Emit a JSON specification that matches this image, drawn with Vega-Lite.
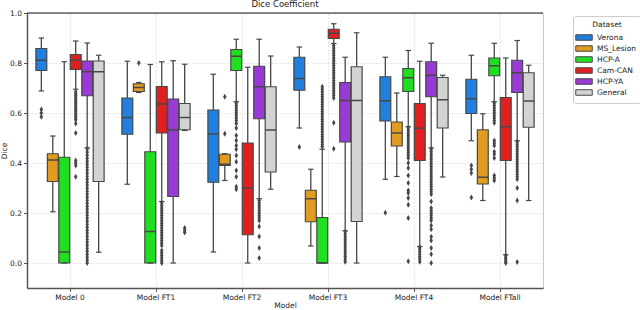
{
  "$schema": "https://vega.github.io/schema/vega-lite/v6.json",
  "width": 516,
  "height": 275,
  "autosize": "none",
  "padding": {"left": 27, "top": 13, "right": 97, "bottom": 22},
  "title": {"text": "Dice Coefficient", "fontSize": 8.5, "fontWeight": "normal", "offset": 1, "color": "#222222"},
  "config": {
    "font": "DejaVu Sans",
    "view": {"stroke": "#c8c8c8", "strokeWidth": 1}
  },
  "datasets": {
    "boxes": [
      {"m": "Model 0", "d": "Verona", "lo": 0.688, "q1": 0.770, "med": 0.811, "q3": 0.858, "hi": 0.900},
      {"m": "Model 0", "d": "MS_Lesion", "lo": 0.205, "q1": 0.326, "med": 0.412, "q3": 0.437, "hi": 0.508},
      {"m": "Model 0", "d": "HCP-A", "lo": 0.0, "q1": 0.0, "med": 0.044, "q3": 0.423, "hi": 0.805},
      {"m": "Model 0", "d": "Cam-CAN", "lo": 0.695, "q1": 0.774, "med": 0.811, "q3": 0.834, "hi": 0.888},
      {"m": "Model 0", "d": "HCP-YA", "lo": 0.461, "q1": 0.669, "med": 0.765, "q3": 0.808, "hi": 0.880},
      {"m": "Model 0", "d": "General", "lo": 0.043, "q1": 0.326, "med": 0.765, "q3": 0.808, "hi": 0.831},
      {"m": "Model FT1", "d": "Verona", "lo": 0.315, "q1": 0.515, "med": 0.582, "q3": 0.660, "hi": 0.807},
      {"m": "Model FT1", "d": "MS_Lesion", "lo": 0.682, "q1": 0.686, "med": 0.702, "q3": 0.717, "hi": 0.722},
      {"m": "Model FT1", "d": "HCP-A", "lo": 0.0, "q1": 0.0, "med": 0.126, "q3": 0.445, "hi": 0.794},
      {"m": "Model FT1", "d": "Cam-CAN", "lo": 0.246, "q1": 0.520, "med": 0.636, "q3": 0.706, "hi": 0.805},
      {"m": "Model FT1", "d": "HCP-YA", "lo": 0.0, "q1": 0.266, "med": 0.532, "q3": 0.656, "hi": 0.809},
      {"m": "Model FT1", "d": "General", "lo": 0.530, "q1": 0.533, "med": 0.582, "q3": 0.638, "hi": 0.795},
      {"m": "Model FT2", "d": "Verona", "lo": 0.044, "q1": 0.323, "med": 0.516, "q3": 0.612, "hi": 0.755},
      {"m": "Model FT2", "d": "MS_Lesion", "lo": 0.330, "q1": 0.390, "med": 0.395, "q3": 0.435, "hi": 0.437},
      {"m": "Model FT2", "d": "HCP-A", "lo": 0.645, "q1": 0.770, "med": 0.827, "q3": 0.854, "hi": 0.895},
      {"m": "Model FT2", "d": "Cam-CAN", "lo": 0.0, "q1": 0.113, "med": 0.299, "q3": 0.480, "hi": 0.783},
      {"m": "Model FT2", "d": "HCP-YA", "lo": 0.257, "q1": 0.577, "med": 0.705, "q3": 0.787, "hi": 0.895},
      {"m": "Model FT2", "d": "General", "lo": 0.295, "q1": 0.364, "med": 0.532, "q3": 0.705, "hi": 0.828},
      {"m": "Model FT3", "d": "Verona", "lo": 0.540, "q1": 0.691, "med": 0.738, "q3": 0.823, "hi": 0.864},
      {"m": "Model FT3", "d": "MS_Lesion", "lo": 0.068, "q1": 0.165, "med": 0.257, "q3": 0.291, "hi": 0.375},
      {"m": "Model FT3", "d": "HCP-A", "lo": 0.0, "q1": 0.0, "med": 0.0, "q3": 0.182, "hi": 0.455},
      {"m": "Model FT3", "d": "Cam-CAN", "lo": 0.878, "q1": 0.898, "med": 0.919, "q3": 0.935, "hi": 0.957},
      {"m": "Model FT3", "d": "HCP-YA", "lo": 0.129, "q1": 0.484, "med": 0.650, "q3": 0.722, "hi": 0.823},
      {"m": "Model FT3", "d": "General", "lo": 0.0, "q1": 0.166, "med": 0.650, "q3": 0.785, "hi": 0.921},
      {"m": "Model FT4", "d": "Verona", "lo": 0.335, "q1": 0.568, "med": 0.649, "q3": 0.745, "hi": 0.823},
      {"m": "Model FT4", "d": "MS_Lesion", "lo": 0.346, "q1": 0.468, "med": 0.520, "q3": 0.564, "hi": 0.680},
      {"m": "Model FT4", "d": "HCP-A", "lo": 0.545, "q1": 0.686, "med": 0.741, "q3": 0.778, "hi": 0.850},
      {"m": "Model FT4", "d": "Cam-CAN", "lo": 0.066, "q1": 0.410, "med": 0.539, "q3": 0.638, "hi": 0.807},
      {"m": "Model FT4", "d": "HCP-YA", "lo": 0.461, "q1": 0.665, "med": 0.751, "q3": 0.805, "hi": 0.879},
      {"m": "Model FT4", "d": "General", "lo": 0.344, "q1": 0.540, "med": 0.653, "q3": 0.742, "hi": 0.751},
      {"m": "Model FTall", "d": "Verona", "lo": 0.489, "q1": 0.598, "med": 0.657, "q3": 0.735, "hi": 0.831},
      {"m": "Model FTall", "d": "MS_Lesion", "lo": 0.250, "q1": 0.316, "med": 0.343, "q3": 0.533, "hi": 0.597},
      {"m": "Model FTall", "d": "HCP-A", "lo": 0.645, "q1": 0.749, "med": 0.789, "q3": 0.820, "hi": 0.879},
      {"m": "Model FTall", "d": "Cam-CAN", "lo": 0.033, "q1": 0.410, "med": 0.545, "q3": 0.662, "hi": 0.820},
      {"m": "Model FTall", "d": "HCP-YA", "lo": 0.489, "q1": 0.682, "med": 0.761, "q3": 0.811, "hi": 0.890},
      {"m": "Model FTall", "d": "General", "lo": 0.250, "q1": 0.543, "med": 0.648, "q3": 0.761, "hi": 0.791}
    ],
    "outliers": [
      {"m": "Model 0", "d": "Verona", "v": 0.614}, {"m": "Model 0", "d": "Verona", "v": 0.600}, {"m": "Model 0", "d": "Verona", "v": 0.585},
      {"m": "Model 0", "d": "Cam-CAN", "v": 0.685}, {"m": "Model 0", "d": "Cam-CAN", "v": 0.677}, {"m": "Model 0", "d": "Cam-CAN", "v": 0.669},
      {"m": "Model 0", "d": "Cam-CAN", "v": 0.661}, {"m": "Model 0", "d": "Cam-CAN", "v": 0.653}, {"m": "Model 0", "d": "Cam-CAN", "v": 0.645},
      {"m": "Model 0", "d": "Cam-CAN", "v": 0.637}, {"m": "Model 0", "d": "Cam-CAN", "v": 0.629}, {"m": "Model 0", "d": "Cam-CAN", "v": 0.621},
      {"m": "Model 0", "d": "Cam-CAN", "v": 0.613}, {"m": "Model 0", "d": "Cam-CAN", "v": 0.605}, {"m": "Model 0", "d": "Cam-CAN", "v": 0.597},
      {"m": "Model 0", "d": "Cam-CAN", "v": 0.589}, {"m": "Model 0", "d": "Cam-CAN", "v": 0.581}, {"m": "Model 0", "d": "Cam-CAN", "v": 0.573},
      {"m": "Model 0", "d": "Cam-CAN", "v": 0.558}, {"m": "Model 0", "d": "Cam-CAN", "v": 0.520}, {"m": "Model 0", "d": "Cam-CAN", "v": 0.410},
      {"m": "Model 0", "d": "Cam-CAN", "v": 0.400}, {"m": "Model 0", "d": "Cam-CAN", "v": 0.390}, {"m": "Model 0", "d": "Cam-CAN", "v": 0.345},
      {"m": "Model 0", "d": "HCP-YA", "v": 0.455}, {"m": "Model 0", "d": "HCP-YA", "v": 0.443}, {"m": "Model 0", "d": "HCP-YA", "v": 0.431},
      {"m": "Model 0", "d": "HCP-YA", "v": 0.419}, {"m": "Model 0", "d": "HCP-YA", "v": 0.407}, {"m": "Model 0", "d": "HCP-YA", "v": 0.395},
      {"m": "Model 0", "d": "HCP-YA", "v": 0.383}, {"m": "Model 0", "d": "HCP-YA", "v": 0.371}, {"m": "Model 0", "d": "HCP-YA", "v": 0.359},
      {"m": "Model 0", "d": "HCP-YA", "v": 0.347}, {"m": "Model 0", "d": "HCP-YA", "v": 0.335}, {"m": "Model 0", "d": "HCP-YA", "v": 0.323},
      {"m": "Model 0", "d": "HCP-YA", "v": 0.311}, {"m": "Model 0", "d": "HCP-YA", "v": 0.299}, {"m": "Model 0", "d": "HCP-YA", "v": 0.287},
      {"m": "Model 0", "d": "HCP-YA", "v": 0.275}, {"m": "Model 0", "d": "HCP-YA", "v": 0.263}, {"m": "Model 0", "d": "HCP-YA", "v": 0.251},
      {"m": "Model 0", "d": "HCP-YA", "v": 0.239}, {"m": "Model 0", "d": "HCP-YA", "v": 0.227}, {"m": "Model 0", "d": "HCP-YA", "v": 0.215},
      {"m": "Model 0", "d": "HCP-YA", "v": 0.203}, {"m": "Model 0", "d": "HCP-YA", "v": 0.191}, {"m": "Model 0", "d": "HCP-YA", "v": 0.179},
      {"m": "Model 0", "d": "HCP-YA", "v": 0.167}, {"m": "Model 0", "d": "HCP-YA", "v": 0.155}, {"m": "Model 0", "d": "HCP-YA", "v": 0.143},
      {"m": "Model 0", "d": "HCP-YA", "v": 0.131}, {"m": "Model 0", "d": "HCP-YA", "v": 0.119}, {"m": "Model 0", "d": "HCP-YA", "v": 0.107},
      {"m": "Model 0", "d": "HCP-YA", "v": 0.095}, {"m": "Model 0", "d": "HCP-YA", "v": 0.083}, {"m": "Model 0", "d": "HCP-YA", "v": 0.071},
      {"m": "Model 0", "d": "HCP-YA", "v": 0.059}, {"m": "Model 0", "d": "HCP-YA", "v": 0.047}, {"m": "Model 0", "d": "HCP-YA", "v": 0.035},
      {"m": "Model 0", "d": "HCP-YA", "v": 0.023}, {"m": "Model 0", "d": "HCP-YA", "v": 0.011}, {"m": "Model 0", "d": "HCP-YA", "v": 0.0},
      {"m": "Model FT1", "d": "MS_Lesion", "v": 0.800},
      {"m": "Model FT1", "d": "Cam-CAN", "v": 0.24}, {"m": "Model FT1", "d": "Cam-CAN", "v": 0.23}, {"m": "Model FT1", "d": "Cam-CAN", "v": 0.22},
      {"m": "Model FT1", "d": "Cam-CAN", "v": 0.21}, {"m": "Model FT1", "d": "Cam-CAN", "v": 0.20}, {"m": "Model FT1", "d": "Cam-CAN", "v": 0.19},
      {"m": "Model FT1", "d": "Cam-CAN", "v": 0.18}, {"m": "Model FT1", "d": "Cam-CAN", "v": 0.17}, {"m": "Model FT1", "d": "Cam-CAN", "v": 0.16},
      {"m": "Model FT1", "d": "Cam-CAN", "v": 0.15}, {"m": "Model FT1", "d": "Cam-CAN", "v": 0.14}, {"m": "Model FT1", "d": "Cam-CAN", "v": 0.13},
      {"m": "Model FT1", "d": "Cam-CAN", "v": 0.12}, {"m": "Model FT1", "d": "Cam-CAN", "v": 0.11}, {"m": "Model FT1", "d": "Cam-CAN", "v": 0.10},
      {"m": "Model FT1", "d": "Cam-CAN", "v": 0.09}, {"m": "Model FT1", "d": "Cam-CAN", "v": 0.08}, {"m": "Model FT1", "d": "Cam-CAN", "v": 0.07},
      {"m": "Model FT1", "d": "Cam-CAN", "v": 0.05}, {"m": "Model FT1", "d": "Cam-CAN", "v": 0.04}, {"m": "Model FT1", "d": "Cam-CAN", "v": 0.03},
      {"m": "Model FT1", "d": "Cam-CAN", "v": 0.02}, {"m": "Model FT1", "d": "Cam-CAN", "v": 0.01}, {"m": "Model FT1", "d": "Cam-CAN", "v": 0.0},
      {"m": "Model FT1", "d": "General", "v": 0.140}, {"m": "Model FT1", "d": "General", "v": 0.130}, {"m": "Model FT1", "d": "General", "v": 0.122},
      {"m": "Model FT2", "d": "MS_Lesion", "v": 0.665}, {"m": "Model FT2", "d": "MS_Lesion", "v": 0.517},
      {"m": "Model FT2", "d": "HCP-A", "v": 0.64}, {"m": "Model FT2", "d": "HCP-A", "v": 0.63}, {"m": "Model FT2", "d": "HCP-A", "v": 0.62},
      {"m": "Model FT2", "d": "HCP-A", "v": 0.61}, {"m": "Model FT2", "d": "HCP-A", "v": 0.60}, {"m": "Model FT2", "d": "HCP-A", "v": 0.59},
      {"m": "Model FT2", "d": "HCP-A", "v": 0.58}, {"m": "Model FT2", "d": "HCP-A", "v": 0.57}, {"m": "Model FT2", "d": "HCP-A", "v": 0.558},
      {"m": "Model FT2", "d": "HCP-A", "v": 0.54}, {"m": "Model FT2", "d": "HCP-A", "v": 0.51}, {"m": "Model FT2", "d": "HCP-A", "v": 0.49},
      {"m": "Model FT2", "d": "HCP-A", "v": 0.47}, {"m": "Model FT2", "d": "HCP-A", "v": 0.455}, {"m": "Model FT2", "d": "HCP-A", "v": 0.43},
      {"m": "Model FT2", "d": "HCP-A", "v": 0.405}, {"m": "Model FT2", "d": "HCP-A", "v": 0.37}, {"m": "Model FT2", "d": "HCP-A", "v": 0.345},
      {"m": "Model FT2", "d": "HCP-A", "v": 0.305}, {"m": "Model FT2", "d": "HCP-A", "v": 0.295},
      {"m": "Model FT2", "d": "HCP-YA", "v": 0.25}, {"m": "Model FT2", "d": "HCP-YA", "v": 0.24}, {"m": "Model FT2", "d": "HCP-YA", "v": 0.23},
      {"m": "Model FT2", "d": "HCP-YA", "v": 0.22}, {"m": "Model FT2", "d": "HCP-YA", "v": 0.21}, {"m": "Model FT2", "d": "HCP-YA", "v": 0.20},
      {"m": "Model FT2", "d": "HCP-YA", "v": 0.19}, {"m": "Model FT2", "d": "HCP-YA", "v": 0.18}, {"m": "Model FT2", "d": "HCP-YA", "v": 0.17},
      {"m": "Model FT2", "d": "HCP-YA", "v": 0.146}, {"m": "Model FT2", "d": "HCP-YA", "v": 0.106}, {"m": "Model FT2", "d": "HCP-YA", "v": 0.06},
      {"m": "Model FT2", "d": "HCP-YA", "v": 0.02},
      {"m": "Model FT3", "d": "Verona", "v": 0.464},
      {"m": "Model FT3", "d": "HCP-A", "v": 0.465}, {"m": "Model FT3", "d": "HCP-A", "v": 0.475}, {"m": "Model FT3", "d": "HCP-A", "v": 0.485},
      {"m": "Model FT3", "d": "HCP-A", "v": 0.495}, {"m": "Model FT3", "d": "HCP-A", "v": 0.505}, {"m": "Model FT3", "d": "HCP-A", "v": 0.515},
      {"m": "Model FT3", "d": "HCP-A", "v": 0.525}, {"m": "Model FT3", "d": "HCP-A", "v": 0.535}, {"m": "Model FT3", "d": "HCP-A", "v": 0.545},
      {"m": "Model FT3", "d": "HCP-A", "v": 0.555}, {"m": "Model FT3", "d": "HCP-A", "v": 0.565}, {"m": "Model FT3", "d": "HCP-A", "v": 0.575},
      {"m": "Model FT3", "d": "HCP-A", "v": 0.585}, {"m": "Model FT3", "d": "HCP-A", "v": 0.595}, {"m": "Model FT3", "d": "HCP-A", "v": 0.605},
      {"m": "Model FT3", "d": "HCP-A", "v": 0.615}, {"m": "Model FT3", "d": "HCP-A", "v": 0.625}, {"m": "Model FT3", "d": "HCP-A", "v": 0.635},
      {"m": "Model FT3", "d": "HCP-A", "v": 0.645}, {"m": "Model FT3", "d": "HCP-A", "v": 0.655}, {"m": "Model FT3", "d": "HCP-A", "v": 0.665},
      {"m": "Model FT3", "d": "HCP-A", "v": 0.675}, {"m": "Model FT3", "d": "HCP-A", "v": 0.685}, {"m": "Model FT3", "d": "HCP-A", "v": 0.695},
      {"m": "Model FT3", "d": "HCP-A", "v": 0.705},
      {"m": "Model FT3", "d": "Cam-CAN", "v": 0.87}, {"m": "Model FT3", "d": "Cam-CAN", "v": 0.86}, {"m": "Model FT3", "d": "Cam-CAN", "v": 0.85},
      {"m": "Model FT3", "d": "Cam-CAN", "v": 0.84}, {"m": "Model FT3", "d": "Cam-CAN", "v": 0.83}, {"m": "Model FT3", "d": "Cam-CAN", "v": 0.82},
      {"m": "Model FT3", "d": "Cam-CAN", "v": 0.81}, {"m": "Model FT3", "d": "Cam-CAN", "v": 0.80}, {"m": "Model FT3", "d": "Cam-CAN", "v": 0.79},
      {"m": "Model FT3", "d": "Cam-CAN", "v": 0.78}, {"m": "Model FT3", "d": "Cam-CAN", "v": 0.77}, {"m": "Model FT3", "d": "Cam-CAN", "v": 0.76},
      {"m": "Model FT3", "d": "Cam-CAN", "v": 0.75}, {"m": "Model FT3", "d": "Cam-CAN", "v": 0.74}, {"m": "Model FT3", "d": "Cam-CAN", "v": 0.73},
      {"m": "Model FT3", "d": "Cam-CAN", "v": 0.72}, {"m": "Model FT3", "d": "Cam-CAN", "v": 0.71}, {"m": "Model FT3", "d": "Cam-CAN", "v": 0.70},
      {"m": "Model FT3", "d": "Cam-CAN", "v": 0.69}, {"m": "Model FT3", "d": "Cam-CAN", "v": 0.68}, {"m": "Model FT3", "d": "Cam-CAN", "v": 0.67},
      {"m": "Model FT3", "d": "Cam-CAN", "v": 0.66}, {"m": "Model FT3", "d": "Cam-CAN", "v": 0.561}, {"m": "Model FT3", "d": "Cam-CAN", "v": 0.457},
      {"m": "Model FT3", "d": "HCP-YA", "v": 0.125}, {"m": "Model FT3", "d": "HCP-YA", "v": 0.115}, {"m": "Model FT3", "d": "HCP-YA", "v": 0.105},
      {"m": "Model FT3", "d": "HCP-YA", "v": 0.095}, {"m": "Model FT3", "d": "HCP-YA", "v": 0.085}, {"m": "Model FT3", "d": "HCP-YA", "v": 0.075},
      {"m": "Model FT3", "d": "HCP-YA", "v": 0.065}, {"m": "Model FT3", "d": "HCP-YA", "v": 0.055}, {"m": "Model FT3", "d": "HCP-YA", "v": 0.045},
      {"m": "Model FT3", "d": "HCP-YA", "v": 0.035}, {"m": "Model FT3", "d": "HCP-YA", "v": 0.025}, {"m": "Model FT3", "d": "HCP-YA", "v": 0.015},
      {"m": "Model FT3", "d": "HCP-YA", "v": 0.005},
      {"m": "Model FT4", "d": "Verona", "v": 0.201},
      {"m": "Model FT4", "d": "HCP-A", "v": 0.54}, {"m": "Model FT4", "d": "HCP-A", "v": 0.53}, {"m": "Model FT4", "d": "HCP-A", "v": 0.52},
      {"m": "Model FT4", "d": "HCP-A", "v": 0.51}, {"m": "Model FT4", "d": "HCP-A", "v": 0.50}, {"m": "Model FT4", "d": "HCP-A", "v": 0.49},
      {"m": "Model FT4", "d": "HCP-A", "v": 0.48}, {"m": "Model FT4", "d": "HCP-A", "v": 0.47}, {"m": "Model FT4", "d": "HCP-A", "v": 0.46},
      {"m": "Model FT4", "d": "HCP-A", "v": 0.45}, {"m": "Model FT4", "d": "HCP-A", "v": 0.44}, {"m": "Model FT4", "d": "HCP-A", "v": 0.43},
      {"m": "Model FT4", "d": "HCP-A", "v": 0.42}, {"m": "Model FT4", "d": "HCP-A", "v": 0.40}, {"m": "Model FT4", "d": "HCP-A", "v": 0.38},
      {"m": "Model FT4", "d": "HCP-A", "v": 0.35}, {"m": "Model FT4", "d": "HCP-A", "v": 0.32}, {"m": "Model FT4", "d": "HCP-A", "v": 0.29},
      {"m": "Model FT4", "d": "HCP-A", "v": 0.28}, {"m": "Model FT4", "d": "HCP-A", "v": 0.26}, {"m": "Model FT4", "d": "HCP-A", "v": 0.233},
      {"m": "Model FT4", "d": "HCP-A", "v": 0.18}, {"m": "Model FT4", "d": "HCP-A", "v": 0.007},
      {"m": "Model FT4", "d": "Cam-CAN", "v": 0.064}, {"m": "Model FT4", "d": "Cam-CAN", "v": 0.055}, {"m": "Model FT4", "d": "Cam-CAN", "v": 0.045},
      {"m": "Model FT4", "d": "Cam-CAN", "v": 0.035}, {"m": "Model FT4", "d": "Cam-CAN", "v": 0.025}, {"m": "Model FT4", "d": "Cam-CAN", "v": 0.015},
      {"m": "Model FT4", "d": "Cam-CAN", "v": 0.005},
      {"m": "Model FT4", "d": "HCP-YA", "v": 0.455}, {"m": "Model FT4", "d": "HCP-YA", "v": 0.445}, {"m": "Model FT4", "d": "HCP-YA", "v": 0.435},
      {"m": "Model FT4", "d": "HCP-YA", "v": 0.425}, {"m": "Model FT4", "d": "HCP-YA", "v": 0.415}, {"m": "Model FT4", "d": "HCP-YA", "v": 0.405},
      {"m": "Model FT4", "d": "HCP-YA", "v": 0.395}, {"m": "Model FT4", "d": "HCP-YA", "v": 0.385}, {"m": "Model FT4", "d": "HCP-YA", "v": 0.375},
      {"m": "Model FT4", "d": "HCP-YA", "v": 0.365}, {"m": "Model FT4", "d": "HCP-YA", "v": 0.355}, {"m": "Model FT4", "d": "HCP-YA", "v": 0.345},
      {"m": "Model FT4", "d": "HCP-YA", "v": 0.335}, {"m": "Model FT4", "d": "HCP-YA", "v": 0.325}, {"m": "Model FT4", "d": "HCP-YA", "v": 0.315},
      {"m": "Model FT4", "d": "HCP-YA", "v": 0.305}, {"m": "Model FT4", "d": "HCP-YA", "v": 0.295}, {"m": "Model FT4", "d": "HCP-YA", "v": 0.285},
      {"m": "Model FT4", "d": "HCP-YA", "v": 0.275}, {"m": "Model FT4", "d": "HCP-YA", "v": 0.246}, {"m": "Model FT4", "d": "HCP-YA", "v": 0.22},
      {"m": "Model FT4", "d": "HCP-YA", "v": 0.21}, {"m": "Model FT4", "d": "HCP-YA", "v": 0.20}, {"m": "Model FT4", "d": "HCP-YA", "v": 0.19},
      {"m": "Model FT4", "d": "HCP-YA", "v": 0.18}, {"m": "Model FT4", "d": "HCP-YA", "v": 0.17}, {"m": "Model FT4", "d": "HCP-YA", "v": 0.15},
      {"m": "Model FT4", "d": "HCP-YA", "v": 0.135}, {"m": "Model FT4", "d": "HCP-YA", "v": 0.105}, {"m": "Model FT4", "d": "HCP-YA", "v": 0.09},
      {"m": "Model FT4", "d": "HCP-YA", "v": 0.06}, {"m": "Model FT4", "d": "HCP-YA", "v": 0.035}, {"m": "Model FT4", "d": "HCP-YA", "v": 0.0},
      {"m": "Model FTall", "d": "Verona", "v": 0.390}, {"m": "Model FTall", "d": "Verona", "v": 0.375}, {"m": "Model FTall", "d": "Verona", "v": 0.360},
      {"m": "Model FTall", "d": "Verona", "v": 0.262},
      {"m": "Model FTall", "d": "HCP-A", "v": 0.64}, {"m": "Model FTall", "d": "HCP-A", "v": 0.63}, {"m": "Model FTall", "d": "HCP-A", "v": 0.62},
      {"m": "Model FTall", "d": "HCP-A", "v": 0.61}, {"m": "Model FTall", "d": "HCP-A", "v": 0.60}, {"m": "Model FTall", "d": "HCP-A", "v": 0.59},
      {"m": "Model FTall", "d": "HCP-A", "v": 0.58}, {"m": "Model FTall", "d": "HCP-A", "v": 0.57}, {"m": "Model FTall", "d": "HCP-A", "v": 0.56},
      {"m": "Model FTall", "d": "HCP-A", "v": 0.49}, {"m": "Model FTall", "d": "HCP-A", "v": 0.48}, {"m": "Model FTall", "d": "HCP-A", "v": 0.47},
      {"m": "Model FTall", "d": "HCP-A", "v": 0.445}, {"m": "Model FTall", "d": "HCP-A", "v": 0.435}, {"m": "Model FTall", "d": "HCP-A", "v": 0.42},
      {"m": "Model FTall", "d": "HCP-A", "v": 0.35}, {"m": "Model FTall", "d": "HCP-A", "v": 0.34}, {"m": "Model FTall", "d": "HCP-A", "v": 0.33},
      {"m": "Model FTall", "d": "Cam-CAN", "v": 0.030}, {"m": "Model FTall", "d": "Cam-CAN", "v": 0.022}, {"m": "Model FTall", "d": "Cam-CAN", "v": 0.014},
      {"m": "Model FTall", "d": "Cam-CAN", "v": 0.006}, {"m": "Model FTall", "d": "Cam-CAN", "v": 0.0},
      {"m": "Model FTall", "d": "HCP-YA", "v": 0.485}, {"m": "Model FTall", "d": "HCP-YA", "v": 0.475}, {"m": "Model FTall", "d": "HCP-YA", "v": 0.465},
      {"m": "Model FTall", "d": "HCP-YA", "v": 0.455}, {"m": "Model FTall", "d": "HCP-YA", "v": 0.445}, {"m": "Model FTall", "d": "HCP-YA", "v": 0.435},
      {"m": "Model FTall", "d": "HCP-YA", "v": 0.425}, {"m": "Model FTall", "d": "HCP-YA", "v": 0.415}, {"m": "Model FTall", "d": "HCP-YA", "v": 0.405},
      {"m": "Model FTall", "d": "HCP-YA", "v": 0.395}, {"m": "Model FTall", "d": "HCP-YA", "v": 0.385}, {"m": "Model FTall", "d": "HCP-YA", "v": 0.375},
      {"m": "Model FTall", "d": "HCP-YA", "v": 0.365}, {"m": "Model FTall", "d": "HCP-YA", "v": 0.355}, {"m": "Model FTall", "d": "HCP-YA", "v": 0.345},
      {"m": "Model FTall", "d": "HCP-YA", "v": 0.335}, {"m": "Model FTall", "d": "HCP-YA", "v": 0.300}, {"m": "Model FTall", "d": "HCP-YA", "v": 0.250},
      {"m": "Model FTall", "d": "HCP-YA", "v": 0.004}
    ]
  },
  "layer": [
    {
      "data": {"name": "boxes"},
      "mark": {"type": "rule", "color": "#474747", "strokeWidth": 1.3},
      "encoding": {
        "x": {"field": "m", "type": "nominal", "sort": ["Model 0", "Model FT1", "Model FT2", "Model FT3", "Model FT4", "Model FTall"], "scale": {"paddingInner": 0, "paddingOuter": 0},
          "title": "Model",
          "axis": {"labelAngle": 0, "labelFontSize": 7.5, "titleFontSize": 7.5, "titleFontWeight": "normal", "grid": true, "gridDash": [2, 2], "gridColor": "#d9d9d9", "gridWidth": 0.8, "tickSize": 3.5, "tickColor": "#555555", "domainColor": "#555555", "domainWidth": 1.5, "labelPadding": 1.5, "titlePadding": 1, "labelColor": "#222222", "titleColor": "#222222"}},
        "xOffset": {"field": "d", "type": "nominal", "sort": ["Verona", "MS_Lesion", "HCP-A", "Cam-CAN", "HCP-YA", "General"], "scale": {"paddingInner": 0.05, "paddingOuter": 0.775}},
        "y": {"field": "lo", "type": "quantitative", "title": "Dice",
          "scale": {"domain": [-0.1, 1.0], "nice": false, "zero": false},
          "axis": {"values": [0, 0.2, 0.4, 0.6, 0.8, 1.0], "format": ".1f", "labelFontSize": 7.5, "titleFontSize": 7.5, "titleFontWeight": "normal", "grid": true, "gridDash": [2, 2], "gridColor": "#d9d9d9", "gridWidth": 0.8, "tickSize": 3.5, "tickColor": "#555555", "domainColor": "#555555", "domainWidth": 1.5, "labelPadding": 2, "titlePadding": 1, "labelColor": "#222222", "titleColor": "#222222"}},
        "y2": {"field": "hi"}
      }
    },
    {
      "data": {"name": "boxes"},
      "mark": {"type": "bar", "stroke": "#474747", "strokeWidth": 1.2, "opacity": 1},
      "encoding": {
        "x": {"field": "m", "type": "nominal", "sort": ["Model 0", "Model FT1", "Model FT2", "Model FT3", "Model FT4", "Model FTall"]},
        "xOffset": {"field": "d", "type": "nominal", "sort": ["Verona", "MS_Lesion", "HCP-A", "Cam-CAN", "HCP-YA", "General"]},
        "y": {"field": "q1", "type": "quantitative"},
        "y2": {"field": "q3"},
        "color": {"field": "d", "type": "nominal",
          "scale": {"domain": ["Verona", "MS_Lesion", "HCP-A", "Cam-CAN", "HCP-YA", "General"], "range": ["#207fdf", "#df9c20", "#20df20", "#df2020", "#993ad6", "#d3d3d3"]},
          "legend": {"orient": "none", "legendX": 546, "legendY": 3, "title": "Dataset", "titleFontSize": 7.5, "titleFontWeight": "normal", "titleAnchor": "middle", "titlePadding": 3, "labelFontSize": 7.5, "labelColor": "#222222", "titleColor": "#222222",
            "symbolType": "M-1.5,-0.5L1.5,-0.5L1.5,0.5L-1.5,0.5Z", "symbolSize": 121, "symbolStrokeColor": "#474747", "symbolStrokeWidth": 1, "labelOffset": 7, "rowPadding": 0, "padding": 5, "strokeColor": "#cccccc", "fillColor": "white", "cornerRadius": 2}}
      }
    },
    {
      "data": {"name": "boxes"},
      "mark": {"type": "tick", "size": 10.9, "thickness": 1.5, "color": "#474747", "opacity": 1},
      "encoding": {
        "x": {"field": "m", "type": "nominal", "sort": ["Model 0", "Model FT1", "Model FT2", "Model FT3", "Model FT4", "Model FTall"]},
        "xOffset": {"field": "d", "type": "nominal", "sort": ["Verona", "MS_Lesion", "HCP-A", "Cam-CAN", "HCP-YA", "General"]},
        "y": {"field": "med", "type": "quantitative"}
      }
    },
    {
      "data": {"name": "boxes"},
      "mark": {"type": "tick", "size": 5.5, "thickness": 1.2, "color": "#474747", "opacity": 1},
      "encoding": {
        "x": {"field": "m", "type": "nominal", "sort": ["Model 0", "Model FT1", "Model FT2", "Model FT3", "Model FT4", "Model FTall"]},
        "xOffset": {"field": "d", "type": "nominal", "sort": ["Verona", "MS_Lesion", "HCP-A", "Cam-CAN", "HCP-YA", "General"]},
        "y": {"field": "lo", "type": "quantitative"}
      }
    },
    {
      "data": {"name": "boxes"},
      "mark": {"type": "tick", "size": 5.5, "thickness": 1.2, "color": "#474747", "opacity": 1},
      "encoding": {
        "x": {"field": "m", "type": "nominal", "sort": ["Model 0", "Model FT1", "Model FT2", "Model FT3", "Model FT4", "Model FTall"]},
        "xOffset": {"field": "d", "type": "nominal", "sort": ["Verona", "MS_Lesion", "HCP-A", "Cam-CAN", "HCP-YA", "General"]},
        "y": {"field": "hi", "type": "quantitative"}
      }
    },
    {
      "data": {"name": "outliers"},
      "mark": {"type": "point", "shape": "M0,-1L0.6,0L0,1L-0.6,0Z", "filled": true, "size": 34, "color": "#474747", "opacity": 1},
      "encoding": {
        "x": {"field": "m", "type": "nominal", "sort": ["Model 0", "Model FT1", "Model FT2", "Model FT3", "Model FT4", "Model FTall"]},
        "xOffset": {"field": "d", "type": "nominal", "sort": ["Verona", "MS_Lesion", "HCP-A", "Cam-CAN", "HCP-YA", "General"]},
        "y": {"field": "v", "type": "quantitative"}
      }
    },
    {
      "data": {"values": [{}]},
      "mark": {"type": "rule", "color": "#222222", "strokeWidth": 1},
      "encoding": {"y": {"datum": 1.0}}
    }
  ]
}
